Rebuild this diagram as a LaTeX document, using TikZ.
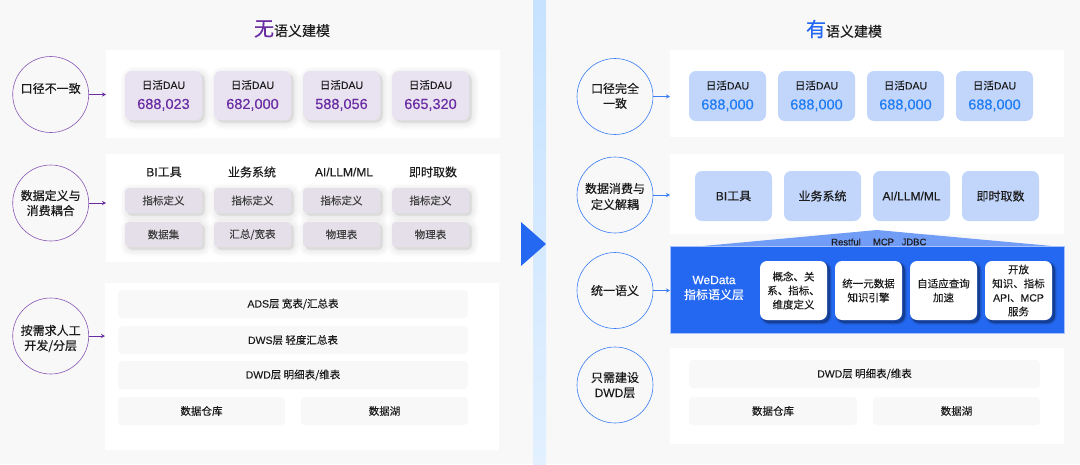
\documentclass[tikz,border=0pt]{standalone}
\usepackage{fontspec}
\setmainfont[FakeBold=0.15]{Noto Sans CJK SC}
\newfontfamily\mdf[FakeBold=0.35]{Noto Sans CJK SC}
\newfontfamily\latf[FakeBold=0.15]{Liberation Sans}
\newfontfamily\latb[FakeBold=0.3]{Liberation Sans}
\newcommand{\lat}[1]{{\latf #1}}
\newcommand{\labb}[1]{{\latb #1}}
\newcommand{\moved}[2]{\raisebox{#1}[0pt][0pt]{\begin{tabular}{@{}c@{}}#2\end{tabular}}}
\usetikzlibrary{arrows.meta}
\definecolor{bgc}{HTML}{F8F8F8}
\definecolor{purp}{HTML}{6A2CA3}
\definecolor{blu}{HTML}{2468F2}
\definecolor{cblu}{HTML}{3B7DF5}
\definecolor{numblu}{HTML}{1F7CF5}
\definecolor{lpurp}{HTML}{E9E3F1}
\definecolor{lgrey}{HTML}{E4DFE9}
\definecolor{lblu}{HTML}{C2D6FB}
\definecolor{ink}{HTML}{1C1C1C}
\definecolor{stripa}{HTML}{C6E2FF}
\definecolor{stripb}{HTML}{E2F0FF}
\definecolor{shdark}{HTML}{0F2A66}
\newcommand{\numl}[1]{{\fontsize{14.5}{18}\latf\color{purp}#1}}
\newcommand{\numr}[1]{{\fontsize{14.5}{18}\latf\color{numblu}#1}}
\tikzset{
  x=1pt,y=-1pt,
  every node/.style={inner sep=0pt,outer sep=0pt,align=center,text=ink},
  fsa/.style={font=\fontsize{10.5}{14}\selectfont},
  fsb/.style={font=\fontsize{12}{15}\selectfont},
  panel/.style={fill=white,draw=none,minimum width=394,anchor=north west},
  lcirc/.style={circle,minimum size=76,fill=bgc,draw=purp!80,line width=0.6pt,font=\fontsize{12}{15}\mdf},
  rcirc/.style={circle,minimum size=76,fill=bgc,draw=cblu,line width=0.6pt,font=\fontsize{12}{15}\mdf},
  larrow/.style={purp,line width=0.9pt,-{Stealth[length=4pt,width=4pt]}},
  rarrow/.style={cblu,line width=0.9pt,-{Stealth[length=4pt,width=4pt]}},
  shlayer/.style n args={3}{preaction={draw=#1,fill=#1,opacity=#2,line width=#3,transform canvas={shift={(2.5pt,-2.5pt)}}}},
  softsh/.style={shlayer={black}{0.012}{14pt},shlayer={black}{0.015}{11pt},shlayer={black}{0.015}{8pt},shlayer={black}{0.015}{5pt},shlayer={black}{0.015}{2pt}},
  darksh/.style={shlayer={shdark}{0.12}{5pt},shlayer={shdark}{0.2}{3pt},shlayer={shdark}{0.3}{1pt}},
  lcard/.style={fill=lpurp,rounded corners=7,minimum width=77,minimum height=49,softsh,fsa},
  lsub/.style={fill=lgrey,rounded corners=4,minimum width=77,minimum height=25,softsh,fsa,text=ink!85},
  rcard/.style={fill=lblu,rounded corners=7,minimum width=77,minimum height=50,fsa},
  rtool/.style={fill=lblu,rounded corners=7,minimum width=77,minimum height=50,fsb},
  row/.style={fill=bgc,rounded corners=4,minimum height=28,fsa},
  wcard/.style={fill=white,rounded corners=7,minimum width=67,minimum height=59,fsa,darksh},
  hdr/.style={fsb},
  proto/.style={font=\fontsize{9.5}{10}\latf},
}
\begin{document}
\begin{tikzpicture}
\useasboundingbox (0,0) rectangle (1080,464);
\fill[bgc] (0,0) rectangle (1080,464);
\shade[top color=stripa,bottom color=stripb,draw=none] (533,0) rectangle (546,464);
\fill[blu] (521,222) -- (546,244) -- (521,266) -- cycle;

% titles
\node[font=\fontsize{14}{16}\mdf] (tl) at (292,29) {{\fontsize{20}{20}\selectfont\color{purp}无}语义建模};
\node[font=\fontsize{14}{16}\mdf] (tr) at (844,29) {{\fontsize{20}{20}\selectfont\color{blu}有}语义建模};

% LEFT panels
\node[panel,minimum height=88] (lp1) at (106,50) {};
\node[panel,minimum height=108] (lp2) at (106,154) {};
\node[panel,minimum height=167] (lp3) at (105,283) {};

\node[lcard] (lca) at (163.5,95.5) {日活\lat{DAU}\\[6pt]\numl{688,023}};
\node[lcard] (lcb) at (252.5,95.5) {日活\lat{DAU}\\[6pt]\numl{682,000}};
\node[lcard] (lcc) at (341.5,95.5) {日活\lat{DAU}\\[6pt]\numl{588,056}};
\node[lcard] (lcd) at (430.5,95.5) {日活\lat{DAU}\\[6pt]\numl{665,320}};

\node[hdr] (ha) at (164,172) {\labb{BI}工具};
\node[hdr] (hb) at (252,172) {业务系统};
\node[hdr] (hc) at (344,172) {\labb{AI/LLM/ML}};
\node[hdr] (hd) at (433,172) {即时取数};
\node[lsub] (sa) at (163.5,200.5) {指标定义};
\node[lsub] (sb) at (252.5,200.5) {指标定义};
\node[lsub] (sc) at (341.5,200.5) {指标定义};
\node[lsub] (sd) at (430.5,200.5) {指标定义};
\node[lsub] (ta) at (163.5,234.5) {数据集};
\node[lsub] (tb) at (252.5,234.5) {汇总/宽表};
\node[lsub] (tc) at (341.5,234.5) {物理表};
\node[lsub] (td) at (430.5,234.5) {物理表};

\node[row,minimum width=350] (ads) at (293,304) {\lat{ADS}层 宽表/汇总表};
\node[row,minimum width=350] (dws) at (293,340) {\lat{DWS}层 轻度汇总表};
\node[row,minimum width=350] (dwd) at (293,375) {\lat{DWD}层 明细表/维表};
\node[row,minimum width=167] (wh) at (201.5,411) {数据仓库};
\node[row,minimum width=167] (lake) at (384.5,411) {数据湖};

% LEFT circles
\node[lcirc] (c1) at (50.7,94.5) {\moved{1.5pt}{口径不一致}};
\node[lcirc] (c2) at (50.7,203) {数据定义与\\消费耦合};
\node[lcirc] (c3) at (50.7,336) {\moved{-6.5pt}{按需求人工\\开发/分层}};
\draw[larrow] (c1.east) -- (c1.east -| lp1.west);
\draw[larrow] (c2.east) -- (c2.east -| lp2.west);
\draw[larrow] (c3.east) -- (c3.east -| lp3.west);

% RIGHT panels
\node[panel,minimum height=87] (rp1) at (670,50) {};
\node[panel,minimum height=80] (rp2) at (670,154) {};
\node[panel,minimum height=96] (rp4) at (670,348) {};
\fill[blu!65!white] (703,246) -- (877,230) -- (1052,246) -- cycle;
\node[panel,minimum height=87,fill=blu,draw=blu!40!white,line width=0.4pt] (rp3) at (670,246) {};

\node[rcard] (rca) at (727.5,96) {日活\lat{DAU}\\[6pt]\numr{688,000}};
\node[rcard] (rcb) at (816.5,96) {日活\lat{DAU}\\[6pt]\numr{688,000}};
\node[rcard] (rcc) at (905.5,96) {日活\lat{DAU}\\[6pt]\numr{688,000}};
\node[rcard] (rcd) at (994.5,96) {日活\lat{DAU}\\[6pt]\numr{688,000}};
\node[rtool] (ra) at (733.5,196) {\labb{BI}工具};
\node[rtool] (rb) at (822.5,196) {业务系统};
\node[rtool] (rc) at (911.5,196) {\labb{AI/LLM/ML}};
\node[rtool] (rd) at (1000.5,196) {即时取数};
\node[proto] (rest) at (846,242) {Restful};
\node[proto] (mcp) at (883.5,242) {MCP};
\node[proto] (jdbc) at (914,242) {JDBC};

\node[font=\fontsize{12}{15}\selectfont,text=white] (wd) at (714,288) {\lat{WeData}\\指标语义层};
\node[wcard] (w1) at (793.5,290.5) {概念、关\\系、指标、\\维度定义};
\node[wcard] (w2) at (868.5,290.5) {统一元数据\\知识引擎};
\node[wcard] (w3) at (943.5,290.5) {自适应查询\\加速};
\node[wcard] (w4) at (1018.5,290.5) {开放\\知识、指标\\\lat{API}、\lat{MCP}\\服务};

\node[row,minimum width=351] (rdwd) at (864.5,374) {\lat{DWD}层 明细表/维表};
\node[row,minimum width=168] (rwh) at (773,411) {数据仓库};
\node[row,minimum width=167] (rlake) at (956.5,411) {数据湖};

% RIGHT circles
\node[rcirc] (d1) at (615,96.5) {\moved{-4pt}{口径完全\\一致}};
\node[rcirc] (d2) at (615,195) {\moved{-6pt}{数据消费与\\[1pt]定义解耦}};
\node[rcirc] (d3) at (615,290.5) {统一语义};
\node[rcirc] (d4) at (615,385) {只需建设\\\labb{DWD}层};
\draw[rarrow] (d1.east) -- (d1.east -| rp1.west);
\draw[rarrow] (d2.east) -- (d2.east -| rp2.west);
\draw[rarrow] (d3.east) -- (d3.east -| rp3.west);
\end{tikzpicture}
\end{document}
